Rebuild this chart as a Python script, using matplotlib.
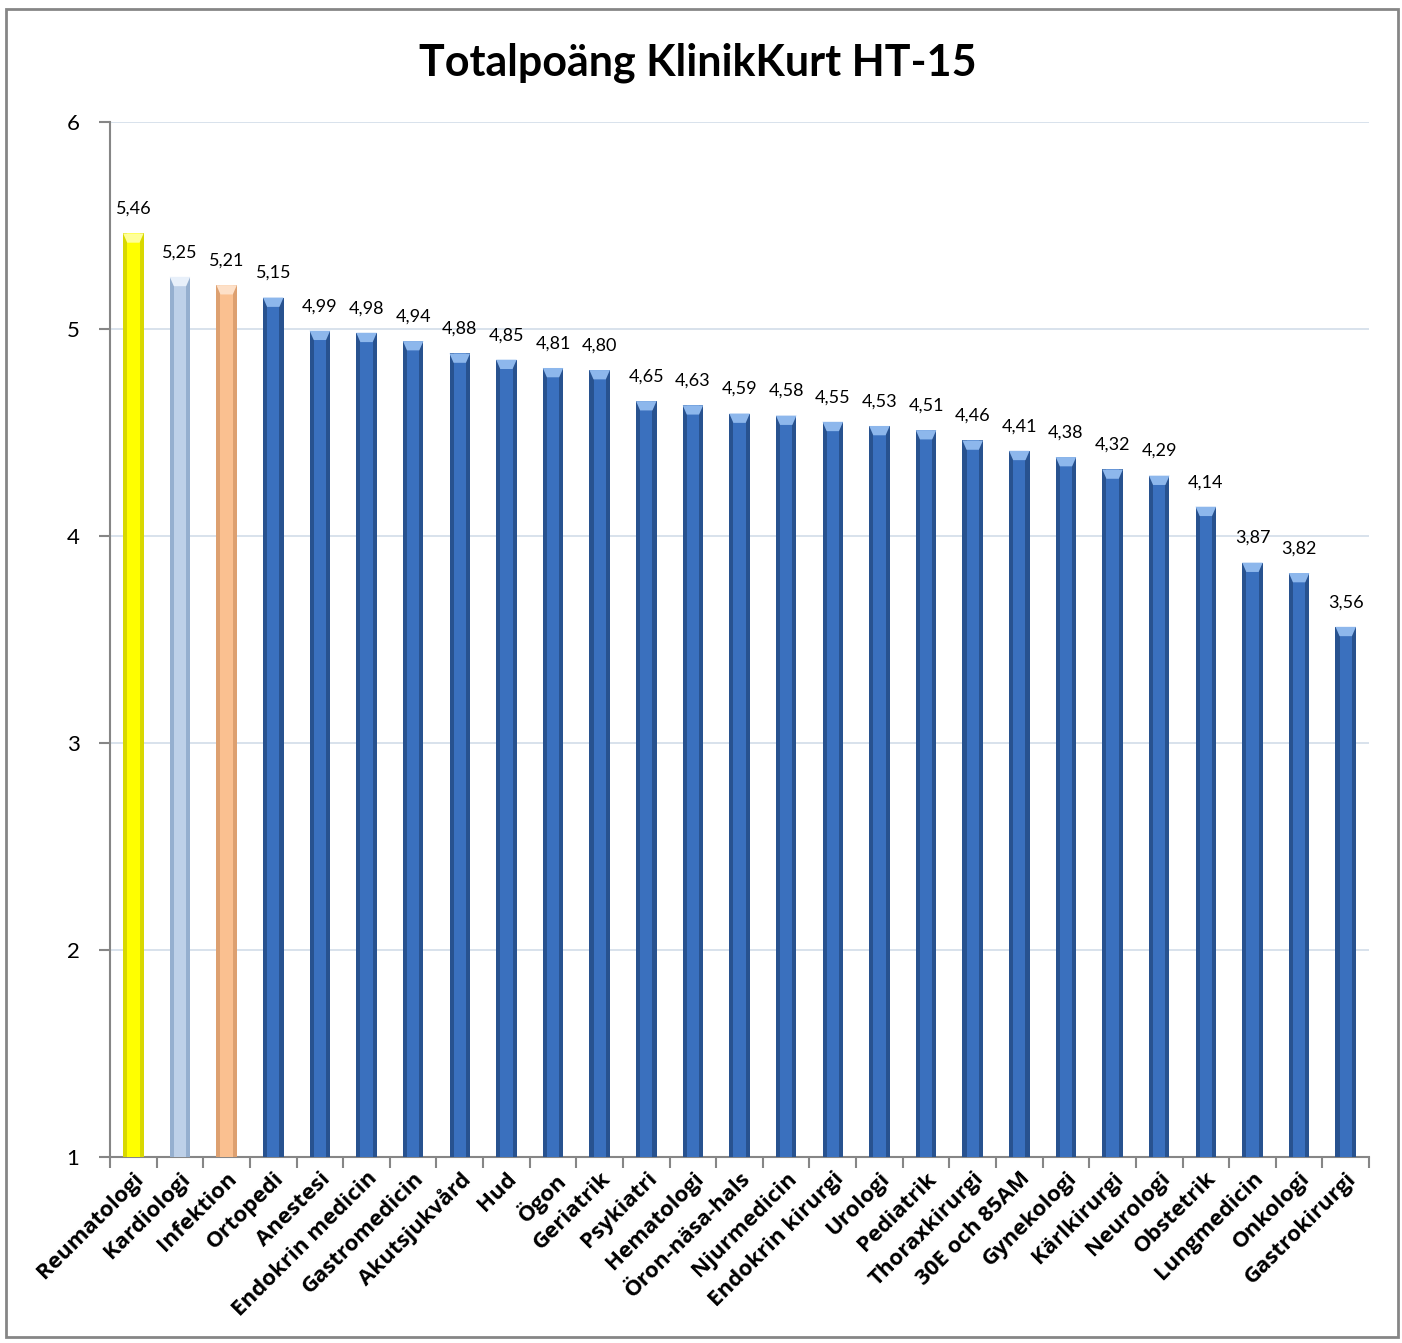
import matplotlib
matplotlib.use("Agg")
import matplotlib.pyplot as plt
from matplotlib.patches import Rectangle

plt.rcParams['font.family'] = ['Lato', 'DejaVu Sans']

# data
kliniker = ['Reumatologi', 'Kardiologi', 'Infektion', 'Ortopedi', 'Anestesi',
            'Endokrin medicin', 'Gastromedicin', 'Akutsjukvård', 'Hud', 'Ögon',
            'Geriatrik', 'Psykiatri', 'Hematologi', 'Öron-näsa-hals', 'Njurmedicin',
            'Endokrin kirurgi', 'Urologi', 'Pediatrik', 'Thoraxkirurgi', '30E och 85AM',
            'Gynekologi', 'Kärlkirurgi', 'Neurologi', 'Obstetrik', 'Lungmedicin',
            'Onkologi', 'Gastrokirurgi']
poang = [5.46, 5.25, 5.21, 5.15, 4.99, 4.98, 4.94, 4.88, 4.85, 4.81, 4.80,
         4.65, 4.63, 4.59, 4.58, 4.55, 4.53, 4.51, 4.46, 4.41, 4.38, 4.32,
         4.29, 4.14, 3.87, 3.82, 3.56]
yticks = [1, 2, 3, 4, 5, 6]

# färger: (kant, mitt, topp)
farg_special = {0: ('#D8D800', '#FFFF00', '#FFFF99'),
                1: ('#95AFCF', '#BDD0E8', '#E8F0FA'),
                2: ('#DDA070', '#FAC090', '#FDE0C8')}
farg_bla = ('#28528F', '#3A70BE', '#8DB7EC')

fig = plt.figure(figsize=(14.02, 13.43), dpi=100)
ax = fig.add_axes([0.0785, 0.1385, 0.898, 0.771])

x = range(len(kliniker))
bredd = 0.44
for i, v in zip(x, poang):
    kant, mitt, topp = farg_special.get(i, farg_bla)
    ax.bar(i, v - 1, bottom=1, width=bredd, color=kant, zorder=3)
    ax.bar(i, v - 1, bottom=1, width=bredd * 0.6, color=mitt, zorder=3)
    # ljus fasning upptill
    ax.fill([i - bredd / 2, i + bredd / 2, i + bredd * 0.3, i - bredd * 0.3],
            [v, v, v - 0.045, v - 0.045], color=topp, zorder=4, lw=0)
    ax.text(i, v + 0.08, f'{v:.2f}'.replace('.', ','), ha='center', va='bottom',
            fontsize=13)

ax.set_xlim(-0.5, len(kliniker) - 0.5)
ax.set_ylim(1, 6)
ax.set_yticks(yticks)
ax.set_yticklabels([str(t) for t in yticks], fontsize=16)
ax.set_xticks([i for i in x])
ax.set_xticklabels(kliniker, rotation=45, ha='right', rotation_mode='anchor',
                   fontsize=16, fontweight='bold', family=['Open Sans', 'DejaVu Sans'])
ax.set_xticks([i - 0.5 for i in range(len(kliniker) + 1)], minor=True)
ax.tick_params(axis='x', which='major', length=0, pad=8)
ax.tick_params(axis='x', which='minor', length=8, color='#868686', width=1.5)
ax.tick_params(axis='y', length=8, color='#868686', width=1.5, pad=14)

ax.grid(axis='y', color='#D5DFEA', lw=1.3, zorder=0)
for s in ['top', 'right']:
    ax.spines[s].set_visible(False)
for s in ['left', 'bottom']:
    ax.spines[s].set_color('#868686')
    ax.spines[s].set_linewidth(1.5)

fig.text(0.498, 0.953, 'Totalpoäng KlinikKurt HT-15', ha='center', va='center',
         fontsize=31, fontweight='bold')

fig.patches.append(Rectangle((0.0045, 0.0045), 0.993, 0.989, transform=fig.transFigure,
                             fill=False, edgecolor='#868686', lw=2))

fig.savefig('out.png', dpi=100)
